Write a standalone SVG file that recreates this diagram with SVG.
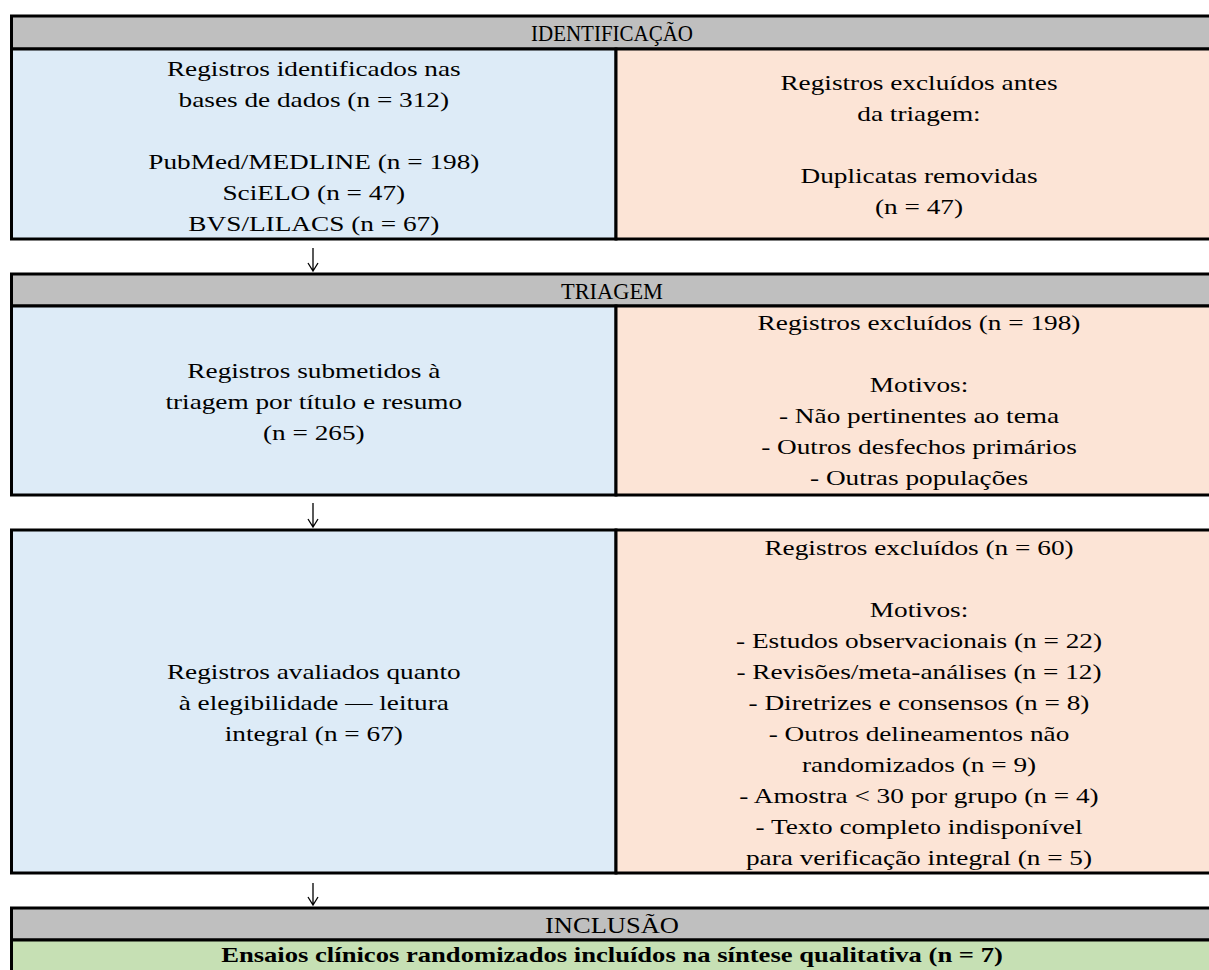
<svg xmlns="http://www.w3.org/2000/svg" width="1209" height="970" viewBox="0 0 1209 970">
<defs>
<style>
.hd{fill:#BFBFBF;stroke:#000;stroke-width:3}
.bl{fill:#DDEBF7;stroke:#000;stroke-width:3}
.pk{fill:#FCE4D6;stroke:#000;stroke-width:3}
.gr{fill:#C6E0B4;stroke:#000;stroke-width:3}
.t{font-family:"Liberation Serif","Times New Roman",serif;font-size:22px;fill:#000;text-anchor:middle}
.h{font-size:22.5px}
.b{font-weight:bold}
.ar{stroke:#000;stroke-width:1.3;fill:none}
</style>
</defs>
<rect width="1209" height="970" fill="#fff"/>

<g id="hdr-identificacao">
<rect class="hd" x="11.5" y="16" width="1211" height="33"/>
<text class="t h" x="612" y="40.5" textLength="162" lengthAdjust="spacingAndGlyphs">IDENTIFICAÇÃO</text>
</g>
<g id="n-registros-identificados">
<rect class="bl" x="11.5" y="49" width="604.5" height="190"/>
<g transform="translate(313.8 0) scale(1.24 1)">
<text class="t" x="0" y="76">Registros identificados nas</text>
<text class="t" x="0" y="107">bases de dados (n = 312)</text>
<text class="t" x="0" y="169">PubMed/MEDLINE (n = 198)</text>
<text class="t" x="0" y="200">SciELO (n = 47)</text>
<text class="t" x="0" y="231">BVS/LILACS (n = 67)</text>
</g>
</g>
<g id="n-excluidos-antes">
<rect class="pk" x="616" y="49" width="606" height="190"/>
<g transform="translate(919 0) scale(1.24 1)">
<text class="t" x="0" y="90.5">Registros excluídos antes</text>
<text class="t" x="0" y="121.5">da triagem:</text>
<text class="t" x="0" y="183.5">Duplicatas removidas</text>
<text class="t" x="0" y="214.5">(n = 47)</text>
</g>
</g>

<g id="hdr-triagem">
<rect class="hd" x="11.5" y="274" width="1211" height="32"/>
<text class="t h" x="612" y="298.5" textLength="102" lengthAdjust="spacingAndGlyphs">TRIAGEM</text>
</g>
<g id="n-triagem">
<rect class="bl" x="11.5" y="306" width="604.5" height="189"/>
<g transform="translate(313.8 0) scale(1.24 1)">
<text class="t" x="0" y="378">Registros submetidos à</text>
<text class="t" x="0" y="409">triagem por título e resumo</text>
<text class="t" x="0" y="440">(n = 265)</text>
</g>
</g>
<g id="n-excluidos-triagem">
<rect class="pk" x="616" y="306" width="606" height="189"/>
<g transform="translate(919 0) scale(1.24 1)">
<text class="t" x="0" y="330">Registros excluídos (n = 198)</text>
<text class="t" x="0" y="392">Motivos:</text>
<text class="t" x="0" y="423">- Não pertinentes ao tema</text>
<text class="t" x="0" y="454">- Outros desfechos primários</text>
<text class="t" x="0" y="485">- Outras populações</text>
</g>
</g>

<g id="n-elegibilidade">
<rect class="bl" x="11.5" y="530" width="604.5" height="343"/>
<g transform="translate(313.8 0) scale(1.24 1)">
<text class="t" x="0" y="679">Registros avaliados quanto</text>
<text class="t" x="0" y="710">à elegibilidade — leitura</text>
<text class="t" x="0" y="741">integral (n = 67)</text>
</g>
</g>
<g id="n-excluidos-elegibilidade">
<rect class="pk" x="616" y="530" width="606" height="343"/>
<g transform="translate(919 0) scale(1.24 1)">
<text class="t" x="0" y="555">Registros excluídos (n = 60)</text>
<text class="t" x="0" y="617">Motivos:</text>
<text class="t" x="0" y="648">- Estudos observacionais (n = 22)</text>
<text class="t" x="0" y="679">- Revisões/meta-análises (n = 12)</text>
<text class="t" x="0" y="710">- Diretrizes e consensos (n = 8)</text>
<text class="t" x="0" y="741">- Outros delineamentos não</text>
<text class="t" x="0" y="772">randomizados (n = 9)</text>
<text class="t" x="0" y="803">- Amostra &lt; 30 por grupo (n = 4)</text>
<text class="t" x="0" y="834">- Texto completo indisponível</text>
<text class="t" x="0" y="865">para verificação integral (n = 5)</text>
</g>
</g>

<g id="hdr-inclusao">
<rect class="hd" x="11.5" y="908" width="1211" height="32"/>
<text class="t h" x="612" y="932.5" textLength="134" lengthAdjust="spacingAndGlyphs">INCLUSÃO</text>
</g>
<g id="n-incluidos">
<rect class="gr" x="11.5" y="940" width="1211" height="60"/>
<g transform="translate(612 0) scale(1.21 1)">
<text class="t b" x="0" y="962">Ensaios clínicos randomizados incluídos na síntese qualitativa (n = 7)</text>
</g>
</g>

<g id="connectors">
<path class="ar" d="M313,248 V271 M308,263 L313,271 L318,263"/>
<path class="ar" d="M313,503 V527 M308,519 L313,527 L318,519"/>
<path class="ar" d="M313,883 V905 M308,897 L313,905 L318,897"/>
</g>
</svg>
